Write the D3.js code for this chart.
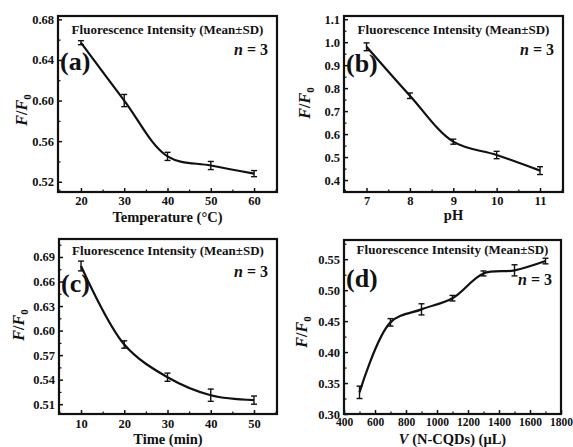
<!DOCTYPE html>
<html>
<head>
<meta charset="utf-8">
<script src="https://cdn.jsdelivr.net/npm/d3@7/dist/d3.min.js"></script>
<style>
  html, body { margin: 0; padding: 0; background: #fff; }
  svg { display: block; }
  text { font-family: "Liberation Serif", "Times New Roman", serif; font-weight: bold; fill: #111; }
</style>
</head>
<body>
<svg id="fig" width="573" height="447"></svg>
<script>
// (a) temperature series
const tempX = [20, 30, 40, 50, 60];
const tempY = [0.657, 0.600, 0.545, 0.536, 0.528];
const tempSD = [0.002, 0.006, 0.004, 0.004, 0.003];
const tempXTicks = [20, 30, 40, 50, 60];
const tempYTicks = [0.52, 0.56, 0.60, 0.64, 0.68];

// (b) pH series
const phX = [7, 8, 9, 10, 11];
const phY = [0.980, 0.767, 0.567, 0.509, 0.441];
const phSD = [0.017, 0.012, 0.011, 0.016, 0.017];
const phXTicks = [7, 8, 9, 10, 11];
const phYTicks = [0.4, 0.5, 0.6, 0.7, 0.8, 0.9, 1.0, 1.1];

// (c) incubation time series
const timeX = [10, 20, 30, 40, 50];
const timeY = [0.679, 0.583, 0.543, 0.521, 0.515];
const timeSD = [0.006, 0.0045, 0.005, 0.0075, 0.005];
const timeXTicks = [10, 20, 30, 40, 50];
const timeYTicks = [0.51, 0.54, 0.57, 0.60, 0.63, 0.66, 0.69];

// (d) N-CQDs volume series
const volX = [500, 700, 900, 1100, 1300, 1500, 1700];
const volY = [0.335, 0.448, 0.469, 0.487, 0.527, 0.532, 0.547];
const volSD = [0.010, 0.006, 0.009, 0.0045, 0.004, 0.009, 0.0045];
const volXTicks = [400, 600, 800, 1000, 1200, 1400, 1600, 1800];
const volYTicks = [0.30, 0.35, 0.40, 0.45, 0.50, 0.55];

const headerText = "Fluorescence Intensity (Mean\u00B1SD)";
const replicateText = "= 3";

const panels = [
  { tag: "(a)", x: tempX, y: tempY, sd: tempSD, xt: tempXTicks, yt: tempYTicks,
    xDom: [14.7, 65.3], yDom: [0.5099, 0.6833], yFmt: ".2f", xTitle: [["Temperature (\u00B0C)", false]],
    box: { l: 58, r: 277, t: 16, b: 192 }, yLab: { x: 27, y: 110 }, xLabY: 222, tickY: 205, tickSize: 12.5,
    head: 18, nY: 55, tagY: 70 },
  { tag: "(b)", x: phX, y: phY, sd: phSD, xt: phXTicks, yt: phYTicks,
    xDom: [6.48, 11.53], yDom: [0.348, 1.114], yFmt: ".1f", xTitle: [["pH", false]],
    box: { l: 344, r: 563, t: 16, b: 192 }, yLab: { x: 310, y: 103 }, xLabY: 219.5, tickY: 204.5, tickSize: 12.5,
    head: 18, nY: 55, tagY: 72 },
  { tag: "(c)", x: timeX, y: timeY, sd: timeSD, xt: timeXTicks, yt: timeYTicks,
    xDom: [4.91, 55.32], yDom: [0.498, 0.712], yFmt: ".2f", xTitle: [["Time (min)", false]],
    box: { l: 59, r: 277, t: 239, b: 414 }, yLab: { x: 24, y: 325 }, xLabY: 444, tickY: 427.5, tickSize: 12.5,
    head: 16, nY: 277, tagY: 292 },
  { tag: "(d)", x: volX, y: volY, sd: volSD, xt: volXTicks, yt: volYTicks,
    xDom: [400, 1800], yDom: [0.30, 0.581], yFmt: ".2f", xTitle: [["V", true], [" (N-CQDs) (\u03BCL)", false]],
    box: { l: 344, r: 561, t: 240, b: 414 }, yLab: { x: 307, y: 332 }, xLabY: 444, tickY: 426, tickSize: 11.5,
    head: 14, nY: 285, tagY: 287 }
];

const svg = d3.select("#fig");

panels.forEach(p => {
  const B = p.box;
  const xs = d3.scaleLinear().domain(p.xDom).range([B.l, B.r]);
  const ys = d3.scaleLinear().domain(p.yDom).range([B.b, B.t]);
  const g = svg.append("g");

  // minor ticks at midpoints between majors
  const xStep = p.xt[1] - p.xt[0];
  const yStep = p.yt[1] - p.yt[0];
  const xMinor = d3.range(p.xt[0] - xStep / 2, p.xt[p.xt.length - 1] + xStep, xStep)
    .filter(v => v > p.xDom[0] && v < p.xDom[1]);
  const yMinor = d3.range(p.yt[0] - yStep / 2, p.yt[p.yt.length - 1] + yStep, yStep)
    .filter(v => v > p.yDom[0] && v < p.yDom[1]);

  // bottom axis: inward ticks
  const xAxis = g.append("g").attr("transform", `translate(0,${B.b})`)
    .call(d3.axisBottom(xs).tickValues(p.xt).tickSizeInner(-4).tickSizeOuter(0).tickFormat(d3.format("d")));
  xAxis.select(".domain").remove();
  xAxis.selectAll("line").attr("stroke", "#111").attr("stroke-width", 1.5);
  xAxis.selectAll("text").attr("y", p.tickY - B.b).attr("dy", 0)
    .style("font-size", p.tickSize + "px");
  const xMin = g.append("g").attr("transform", `translate(0,${B.b})`)
    .call(d3.axisBottom(xs).tickValues(xMinor).tickSizeInner(-2.5).tickSizeOuter(0).tickFormat(""));
  xMin.select(".domain").remove();
  xMin.selectAll("line").attr("stroke", "#111").attr("stroke-width", 1.2);

  // left axis: inward ticks
  const yAxis = g.append("g").attr("transform", `translate(${B.l},0)`)
    .call(d3.axisLeft(ys).tickValues(p.yt).tickSizeInner(-4).tickSizeOuter(0).tickFormat(d3.format(p.yFmt)));
  yAxis.select(".domain").remove();
  yAxis.selectAll("line").attr("stroke", "#111").attr("stroke-width", 1.5);
  yAxis.selectAll("text").attr("x", -4).style("font-size", "12.5px");
  const yMin = g.append("g").attr("transform", `translate(${B.l},0)`)
    .call(d3.axisLeft(ys).tickValues(yMinor).tickSizeInner(-2.5).tickSizeOuter(0).tickFormat(""));
  yMin.select(".domain").remove();
  yMin.selectAll("line").attr("stroke", "#111").attr("stroke-width", 1.2);

  // frame
  g.append("rect").attr("x", B.l).attr("y", B.t)
    .attr("width", B.r - B.l).attr("height", B.b - B.t)
    .attr("fill", "none").attr("stroke", "#111").attr("stroke-width", 2.2);

  // smoothed curve through means
  const pts = p.x.map((v, i) => [v, p.y[i]]);
  const line = d3.line().x(d => xs(d[0])).y(d => ys(d[1])).curve(d3.curveCatmullRom.alpha(0.5));
  g.append("path").datum(pts).attr("d", line)
    .attr("fill", "none").attr("stroke", "#111").attr("stroke-width", 2.2);

  // error bars (mean ± SD)
  const eb = g.append("g").attr("stroke", "#111").attr("stroke-width", 1.4);
  p.x.forEach((v, i) => {
    const cx = xs(v), y0 = ys(p.y[i] - p.sd[i]), y1 = ys(p.y[i] + p.sd[i]);
    eb.append("line").attr("x1", cx).attr("x2", cx).attr("y1", y0).attr("y2", y1);
    eb.append("line").attr("x1", cx - 3).attr("x2", cx + 3).attr("y1", y0).attr("y2", y0);
    eb.append("line").attr("x1", cx - 3).attr("x2", cx + 3).attr("y1", y1).attr("y2", y1);
  });

  // header, replicate count and panel tag
  g.append("text").attr("x", (B.l + B.r) / 2).attr("y", B.t + p.head)
    .attr("text-anchor", "middle").style("font-size", "13px").text(headerText);
  const nt = g.append("text").attr("x", B.r - 9).attr("y", p.nY)
    .attr("text-anchor", "end").style("font-size", "16px");
  nt.append("tspan").style("font-style", "italic").text("n");
  nt.append("tspan").text(" " + replicateText);
  g.append("text").attr("x", B.l + 2).attr("y", p.tagY)
    .style("font-size", "26px").text(p.tag);

  // axis titles
  const xt = g.append("text").attr("x", (B.l + B.r) / 2).attr("y", p.xLabY)
    .attr("text-anchor", "middle").style("font-size", "14.5px");
  p.xTitle.forEach(([s, it]) => xt.append("tspan").style("font-style", it ? "italic" : "normal").text(s));

  const yt = g.append("text")
    .attr("transform", `translate(${p.yLab.x},${p.yLab.y}) rotate(-90)`)
    .attr("text-anchor", "middle").style("font-size", "16px");
  yt.append("tspan").style("font-style", "italic").text("F");
  yt.append("tspan").text("/");
  yt.append("tspan").style("font-style", "italic").text("F");
  yt.append("tspan").attr("dy", 4).style("font-size", "11px").text("0");
});
</script>
</body>
</html>
